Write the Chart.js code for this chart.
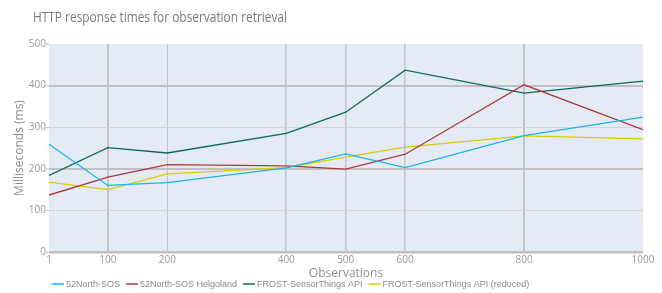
<!DOCTYPE html>
<html><head><meta charset="utf-8">
<script src="https://cdn.jsdelivr.net/npm/chart.js@4"></script>
<style>html,body{margin:0;padding:0;background:#fff}#wrap{width:662px;height:293px}</style>
</head><body><div id="wrap"><canvas id="c" width="662" height="293"></canvas></div>
<script>
const chartTitle = "HTTP response times for observation retrieval";
const xTitle = "Observations";
const yTitle = "Milliseconds (ms)";
const observations = [1, 100, 200, 400, 500, 600, 800, 1000];
const yTicks = [0, 100, 200, 300, 400, 500];
const seriesNames = ["52North-SOS", "52North-SOS Helgoland", "FROST-SensorThings API", "FROST-SensorThings API (reduced)"];
const sos = [259, 160, 167, 202, 236, 203, 280, 324];
const helgoland = [137, 180, 210, 207, 199, 235, 402, 294];
const frost = [184, 251, 238, 285, 336, 437, 382, 411];
const frostReduced = [168, 150, 188, 203, 228, 252, 279, 272];
const colors = ["#19b5ee", "#ab3a3f", "#0b6b55", "#d8cc00"];

const allSeries = [sos, helgoland, frost, frostReduced];
const datasets = allSeries.map((vals, i) => ({
  label: seriesNames[i],
  data: observations.map((x, j) => ({x: x, y: vals[j]})),
  borderColor: colors[i],
  backgroundColor: colors[i],
  borderWidth: 1.3,
  pointRadius: 0,
  tension: 0,
  fill: false
}));

const thickX = {100: 2, 200: 1, 400: 1.5, 500: 1.5, 600: 1.5, 800: 2, 1000: 0};
const thickY = {0: 2.5, 100: 1, 200: 2, 300: 1, 400: 2, 500: 0};

const decor = {
  id: 'decor',
  beforeDraw(chart) {
    const {ctx, chartArea: a} = chart;
    ctx.save();
    ctx.fillStyle = '#e5ebf5';
    ctx.fillRect(a.left, a.top, a.right - a.left, a.bottom - a.top);
    ctx.restore();
  },
  afterDraw(chart) {
    const ctx = chart.ctx;
    ctx.save();
    ctx.font = '14px "Open Sans"';
    ctx.fillStyle = '#7a7a7a';
    ctx.textBaseline = 'alphabetic';
    const w = ctx.measureText(chartTitle).width;
    const sx = 254 / w;
    ctx.translate(33, 22);
    ctx.scale(sx, 1);
    ctx.fillText(chartTitle, 0, 0);
    ctx.restore();
    ctx.save();
    ctx.font = '9px "Liberation Sans"';
    ctx.textBaseline = 'middle';
    let x = 52;
    const y = 284;
    seriesNames.forEach((name, i) => {
      ctx.strokeStyle = colors[i];
      ctx.lineWidth = 1.5;
      ctx.beginPath();
      ctx.moveTo(x, y); ctx.lineTo(x + 12, y); ctx.stroke();
      ctx.fillStyle = '#8a8a8a';
      ctx.fillText(name, x + 14, y + 0.5);
      x += 14 + ctx.measureText(name).width + 6;
    });
    ctx.restore();
  }
};

new Chart(document.getElementById('c'), {
  type: 'line',
  data: {datasets},
  plugins: [decor],
  options: {
    responsive: false,
    animation: false,
    layout: {padding: {left: 0, right: 19, top: 44, bottom: 13}},
    plugins: {legend: {display: false}, title: {display: false}, tooltip: {enabled: false}},
    scales: {
      x: {
        type: 'linear', min: 1, max: 1000,
        afterBuildTicks(axis) { axis.ticks = observations.map(v => ({value: v})); },
        border: {display: false},
        grid: {
          color: '#c4c4c8',
          lineWidth: ctx => (ctx.tick && thickX[ctx.tick.value] !== undefined) ? thickX[ctx.tick.value] : 0,
          drawTicks: false
        },
        ticks: {
          color: '#9a9a9a', font: {family: 'Open Sans', size: 10}, padding: 2,
          maxRotation: 0, autoSkip: false,
          callback: v => String(v)
        },
        title: {display: true, text: xTitle, color: '#8f8f8f', font: {family: 'Open Sans', size: 12, lineHeight: 1.0}, padding: {top: 0, bottom: 0}}
      },
      y: {
        min: 0, max: 500,
        afterBuildTicks(axis) { axis.ticks = yTicks.map(v => ({value: v})); },
        afterFit(axis) { axis.width = 49; },
        border: {display: false},
        grid: {
          color: ctx => (ctx.tick && (ctx.tick.value === 100 || ctx.tick.value === 300)) ? '#d2d4d8' : '#c0c0c4',
          lineWidth: ctx => (ctx.tick && thickY[ctx.tick.value] !== undefined) ? thickY[ctx.tick.value] : 1,
          tickLength: 3,
          tickColor: '#bdbdbd',
          tickWidth: 1
        },
        ticks: {color: '#9a9a9a', font: {family: 'Open Sans', size: 10}, padding: 0},
        title: {display: true, text: yTitle, color: '#8f8f8f', font: {family: 'Open Sans', size: 12}, padding: {top: 12, bottom: 0}}
      }
    }
  }
});
</script></body></html>
